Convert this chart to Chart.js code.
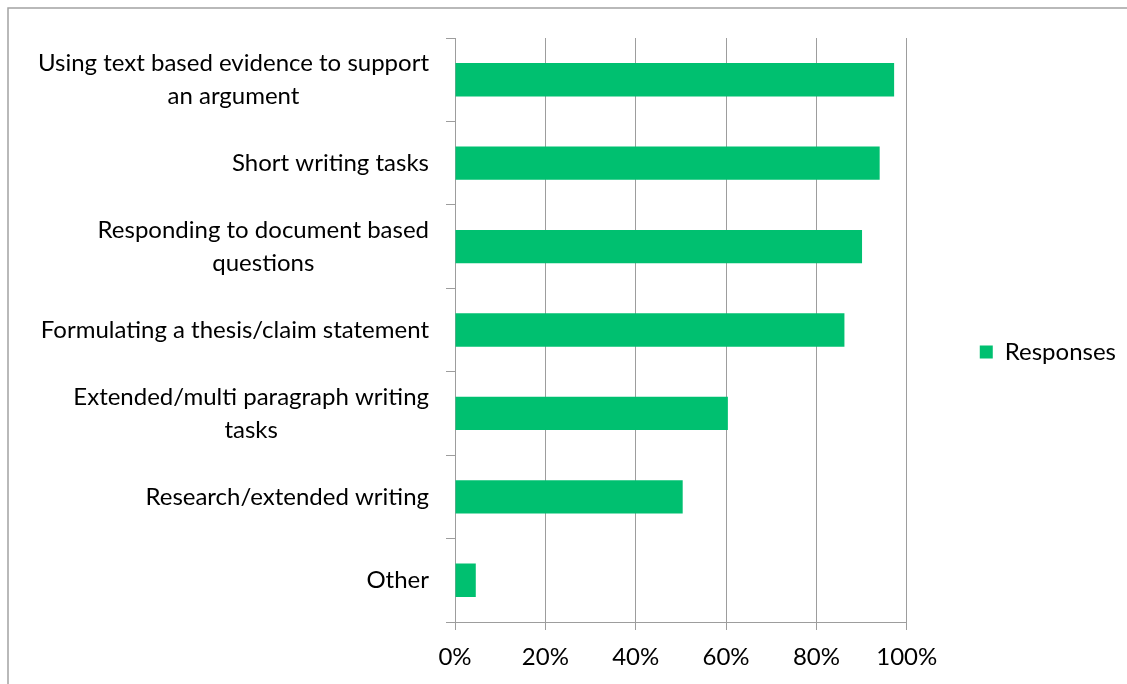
<!DOCTYPE html>
<html>
<head>
<meta charset="utf-8">
<title>Responses</title>
<script src="https://cdn.jsdelivr.net/npm/chart.js@4.4.1/dist/chart.umd.min.js"></script>
<style>
  html, body { margin: 0; padding: 0; background: #ffffff; overflow: hidden; }
  #wrap { position: relative; width: 1127px; height: 684px; }
  canvas { display: block; }
</style>
</head>
<body>
<div id="wrap"><canvas id="chart" width="1127" height="684"></canvas></div>
<script>
// Category labels (one array per category, one entry per text line)
const categories = [
  ["Using text based evidence to support", "an argument"],
  ["Short writing tasks"],
  ["Responding to document based", "questions"],
  ["Formulating a thesis/claim statement"],
  ["Extended/multi paragraph writing", "tasks"],
  ["Research/extended writing"],
  ["Other"]
];

// Share of responses, in percent
const responses = [97.2, 94.0, 90.1, 86.2, 60.4, 50.4, 4.6];

// Value axis ticks, in percent
const percentTicks = [0, 20, 40, 60, 80, 100];

const seriesName = "Responses";

const FONT_FAMILY = "Lato, 'Open Sans', sans-serif";
const FONT_SIZE = 24;
const LINE_GAP = 33;
const GRID_COLOR = "#9d9d9d";
const BAR_COLOR = "#00c070";

// Outer frame of the chart
const framePlugin = {
  id: "frame",
  beforeDraw(chart) {
    const ctx = chart.ctx;
    ctx.save();
    ctx.fillStyle = "#ffffff";
    ctx.fillRect(0, 0, chart.width, chart.height);
    ctx.strokeStyle = "#a3a3a3";
    ctx.lineWidth = 1.5;
    ctx.strokeRect(8, 8, chart.width + 100, chart.height + 100);
    ctx.restore();
  }
};

// Category labels: each block right-aligned to the axis, lines centred within the block
const categoryLabelPlugin = {
  id: "categoryLabels",
  afterDraw(chart) {
    const yScale = chart.scales.y;
    const opts = yScale.options;
    const ctx = chart.ctx;
    const right = yScale.right - opts.grid.tickLength - opts.ticks.padding;
    ctx.save();
    ctx.font = FONT_SIZE + "px " + FONT_FAMILY;
    ctx.fillStyle = "#000000";
    ctx.textAlign = "center";
    ctx.textBaseline = "middle";
    categories.forEach((lines, i) => {
      const py = yScale.getPixelForTick(i);
      const w = Math.max(...lines.map(t => ctx.measureText(t).width));
      const cx = right - w / 2;
      lines.forEach((t, k) => {
        ctx.fillText(t, cx, py + (k - (lines.length - 1) / 2) * LINE_GAP);
      });
    });
    ctx.restore();
  }
};

new Chart(document.getElementById("chart"), {
  type: "bar",
  data: {
    labels: categories,
    datasets: [{
      label: seriesName,
      data: responses,
      backgroundColor: BAR_COLOR,
      borderWidth: 0,
      barPercentage: 0.4,
      categoryPercentage: 1.0
    }]
  },
  options: {
    indexAxis: "y",
    responsive: false,
    animation: false,
    devicePixelRatio: 1,
    layout: { padding: { left: 0, right: 1, top: 38, bottom: 18 } },
    plugins: {
      tooltip: { enabled: false },
      legend: {
        position: "right",
        align: "center",
        labels: {
          boxWidth: 13,
          boxHeight: 13,
          padding: 73,
          color: "#000000",
          font: { family: FONT_FAMILY, size: FONT_SIZE }
        }
      }
    },
    scales: {
      x: {
        min: 0,
        max: 100,
        afterBuildTicks(scale) {
          scale.ticks = percentTicks.map(v => ({ value: v }));
        },
        afterFit(scale) { scale.height = 44; },
        ticks: {
          color: "#000000",
          padding: 13,
          maxRotation: 0,
          font: { family: FONT_FAMILY, size: FONT_SIZE, lineHeight: 1.2 },
          callback: v => v + "%"
        },
        grid: {
          color: GRID_COLOR,
          lineWidth: 1,
          drawOnChartArea: true,
          drawTicks: true,
          tickLength: 8
        },
        border: { display: true, color: GRID_COLOR, width: 1 }
      },
      y: {
        afterFit(scale) { scale.width = 455; },
        ticks: {
          autoSkip: false,
          padding: 17,
          color: "rgba(0,0,0,0)",
          font: { family: FONT_FAMILY, size: FONT_SIZE }
        },
        grid: {
          offset: true,
          color: GRID_COLOR,
          lineWidth: 1,
          drawOnChartArea: false,
          drawTicks: true,
          tickLength: 9
        },
        border: { display: true, color: GRID_COLOR, width: 1 }
      }
    }
  },
  plugins: [framePlugin, categoryLabelPlugin]
});
</script>
</body>
</html>
